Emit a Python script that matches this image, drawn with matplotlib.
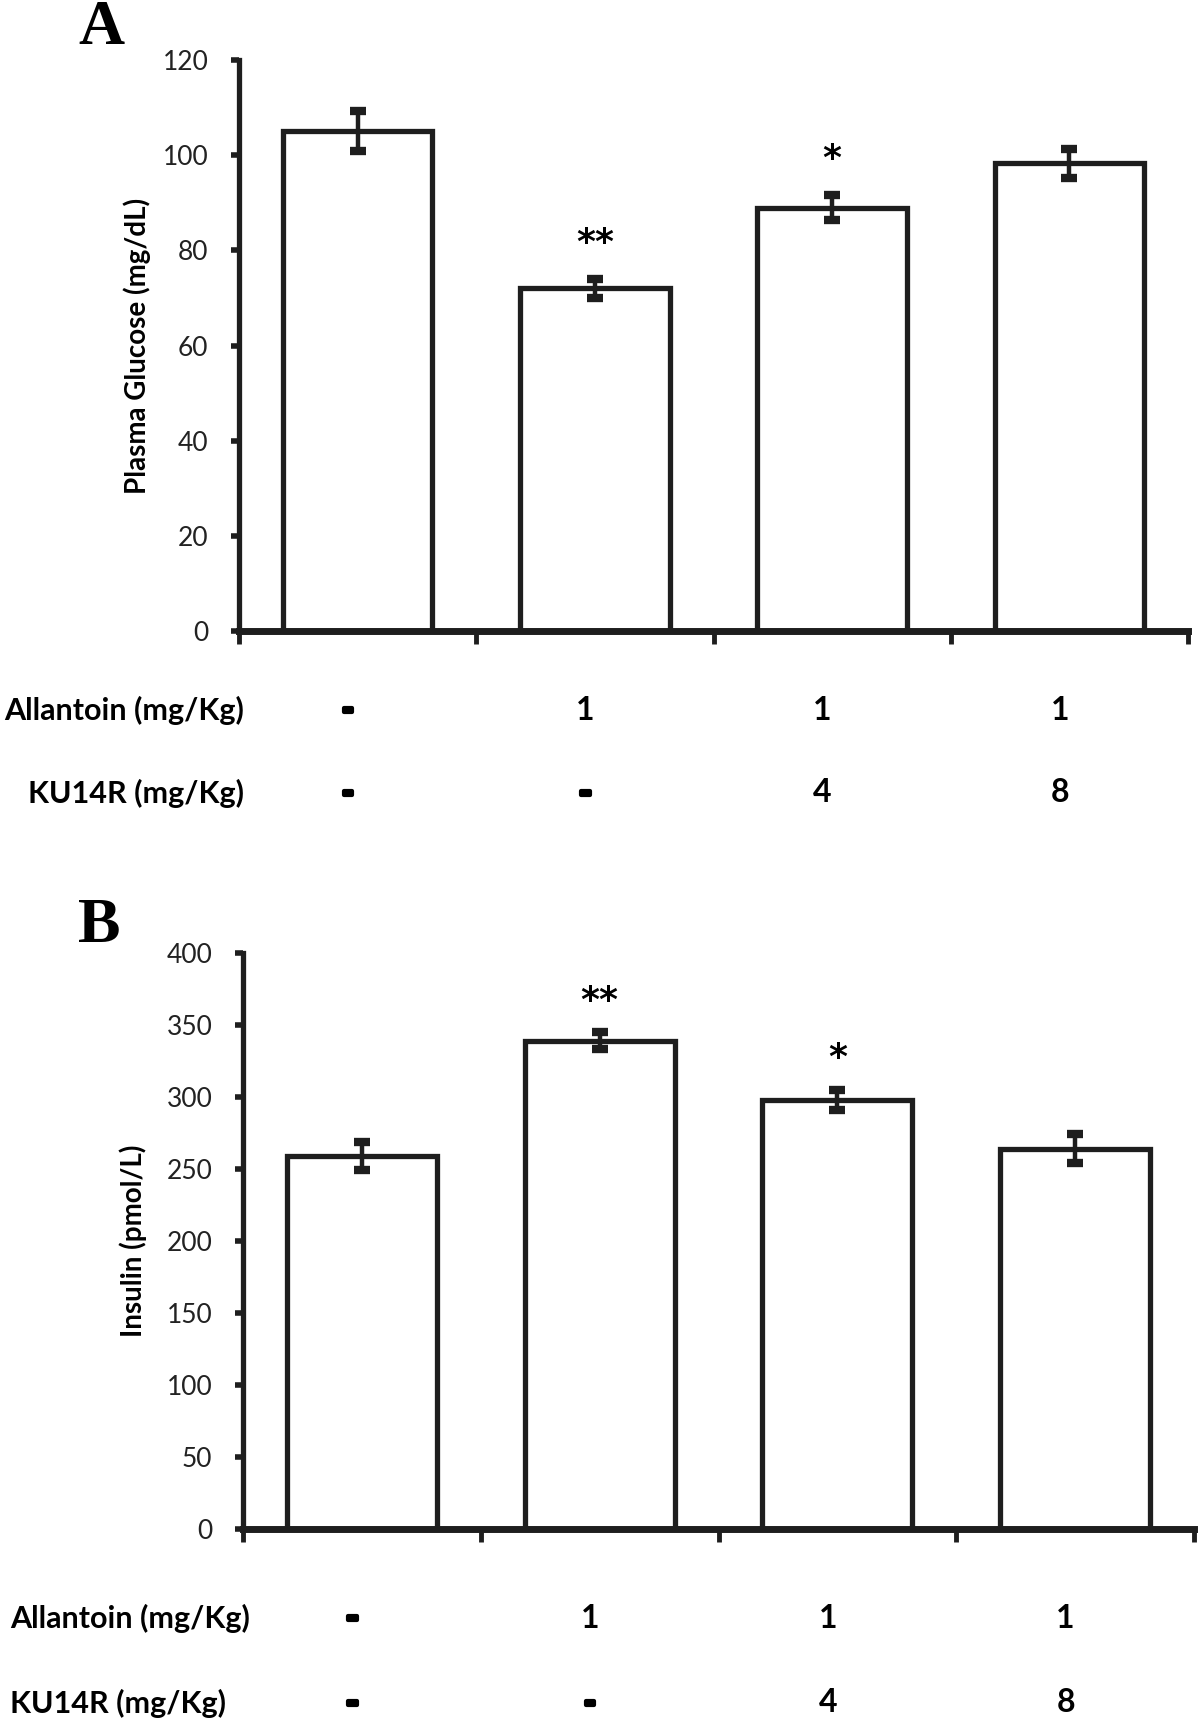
import matplotlib.pyplot as plt
import matplotlib.patheffects as pe
from matplotlib.transforms import blended_transform_factory

plt.rcParams['font.family'] = ['Lato', 'DejaVu Sans']

# data
groups = [0, 1, 2, 3]
allantoin = ["-", "1", "1", "1"]
ku14r = ["-", "-", "4", "8"]

glucose = [105, 72, 89, 98.3]
glucose_err = [4.2, 2.0, 2.6, 3.1]
glucose_sig = ["", "**", "*", ""]

insulin = [259, 339, 298, 264]
insulin_err = [9.5, 6.0, 7.0, 10.0]
insulin_sig = ["", "**", "*", ""]

W, H = 1200, 1720
fig = plt.figure(figsize=(12, 17.2), dpi=100)
INK = "#1e1e1e"


def panel(box, vals, errs, sigs, ymax, ystep, ylabel, letter, letter_xy,
          ylabel_x, row_labels_xy, sig_gap):
    left, top, right, bottom = box
    ax = fig.add_axes([left / W, 1 - bottom / H, (right - left) / W, (bottom - top) / H])
    ax.bar(groups, vals, width=0.63, color="white", edgecolor=INK, linewidth=3.8, zorder=2)
    ax.errorbar(groups, vals, yerr=errs, fmt="none", ecolor=INK,
                elinewidth=3.2, capsize=6, capthick=6, zorder=3)
    for g, v, e, s in zip(groups, vals, errs, sigs):
        if s:
            ax.text(g, v + e + sig_gap, s, ha="center", va="center",
                    fontsize=26, fontweight="bold", family="DejaVu Sans")
    ax.set_xlim(-0.5, 3.5)
    ax.set_ylim(0, ymax)
    ax.set_yticks(range(0, ymax + 1, ystep))
    ax.set_xticks([-0.5, 0.5, 1.5, 2.5, 3.5])
    ax.set_xticklabels([])
    for sp in ["top", "right"]:
        ax.spines[sp].set_visible(False)
    ax.spines["left"].set_linewidth(3.8)
    ax.spines["bottom"].set_linewidth(5)
    ax.spines["left"].set_color(INK)
    ax.spines["bottom"].set_color(INK)
    ax.tick_params(axis="y", direction="out", length=6, width=4, labelsize=19,
                   pad=16, colors=INK, labelcolor="#222222")
    ax.tick_params(axis="x", direction="out", length=9, width=3.5, colors=INK)
    fig.text(ylabel_x / W, 1 - (top + bottom) / 2 / H, ylabel, rotation=90,
             ha="center", va="center", fontsize=20, fontweight="bold")
    fig.text(letter_xy[0] / W, 1 - letter_xy[1] / H, letter, fontsize=46,
             fontweight="bold", family="Liberation Serif", ha="left", va="top")
    tr = blended_transform_factory(ax.transData, fig.transFigure)
    for (name, (lx, ly)), vals_row in zip(row_labels_xy, [allantoin, ku14r]):
        fig.text(lx / W, 1 - ly / H, name, ha="left", va="center",
                 fontsize=22, fontweight="bold")
        for g, t in zip(groups, vals_row):
            if t == "-":
                ax.text(g - 0.04, 1 - ly / H, t, transform=tr, ha="center", va="center",
                        fontsize=20, fontweight="bold", family="DejaVu Sans",
                        path_effects=[pe.withStroke(linewidth=3, foreground="black")])
            else:
                ax.text(g - 0.04, 1 - ly / H, t, transform=tr, ha="center", va="center",
                        fontsize=23, fontweight="bold")
    return ax


panel((239, 60, 1188, 631), glucose, glucose_err, glucose_sig, 120, 20,
      "Plasma Glucose (mg/dL)", "A", (78, 0), 137,
      [("Allantoin (mg/Kg)", (4, 710)), ("KU14R (mg/Kg)", (28, 793))], 7.5)

panel((243, 953, 1194, 1529), insulin, insulin_err, insulin_sig, 400, 50,
      "Insulin (pmol/L)", "B", (78, 898), 133,
      [("Allantoin (mg/Kg)", (10, 1618)), ("KU14R (mg/Kg)", (10, 1703))], 22)

fig.savefig("out.png", dpi=100)
